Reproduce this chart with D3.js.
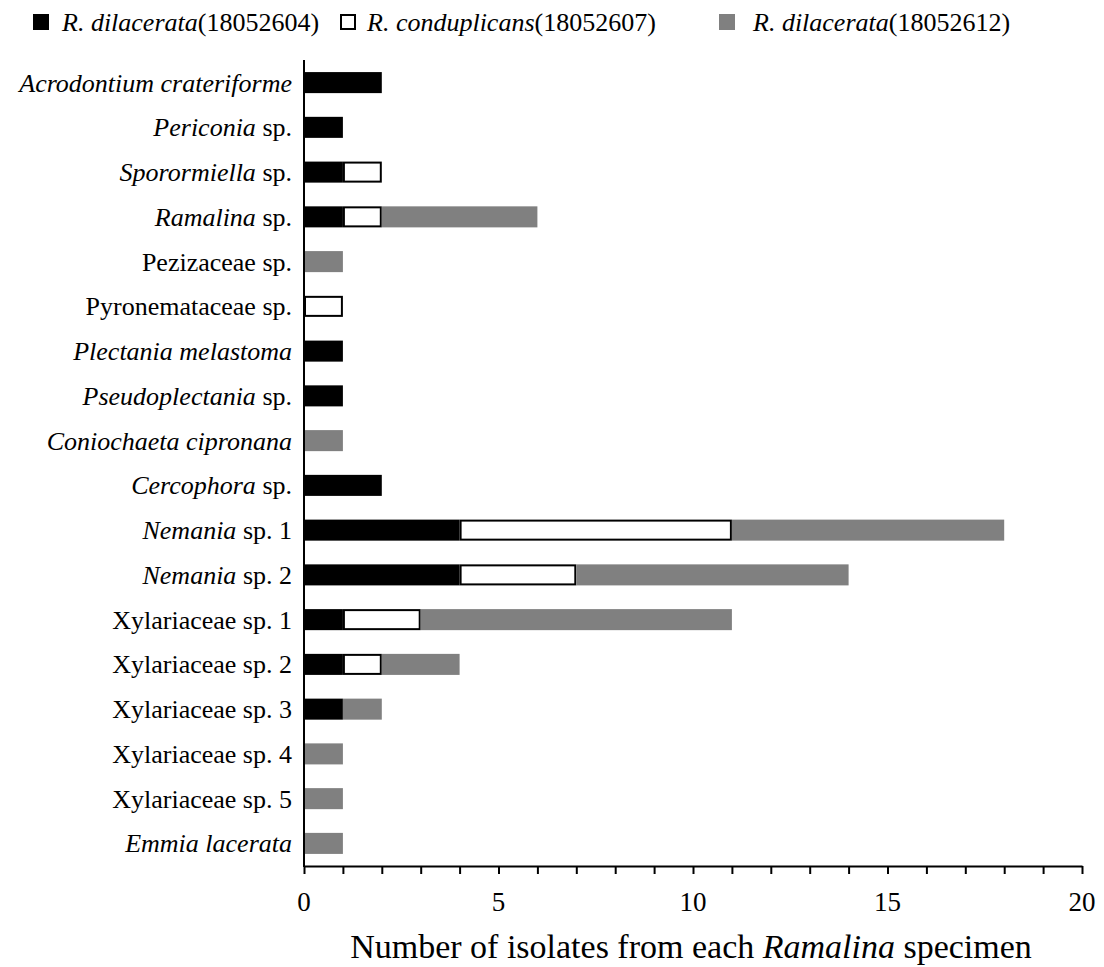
<!DOCTYPE html>
<html>
<head>
<meta charset="utf-8">
<script src="https://cdn.jsdelivr.net/npm/d3@7"></script>
<style>
  body { margin: 0; background: #fff; }
  svg text { font-family: "Liberation Serif", "Times New Roman", serif; fill: #000; }
</style>
</head>
<body>
<svg id="chart" width="1104" height="967"></svg>
<script>
// Taxon labels: [italic part, roman part]
const taxa = [
  ["Acrodontium crateriforme", ""],
  ["Periconia", " sp."],
  ["Sporormiella", " sp."],
  ["Ramalina", " sp."],
  ["", "Pezizaceae sp."],
  ["", "Pyronemataceae sp."],
  ["Plectania melastoma", ""],
  ["Pseudoplectania", " sp."],
  ["Coniochaeta cipronana", ""],
  ["Cercophora", " sp."],
  ["Nemania", " sp. 1"],
  ["Nemania", " sp. 2"],
  ["", "Xylariaceae sp. 1"],
  ["", "Xylariaceae sp. 2"],
  ["", "Xylariaceae sp. 3"],
  ["", "Xylariaceae sp. 4"],
  ["", "Xylariaceae sp. 5"],
  ["Emmia lacerata", ""]
];
const seriesNames = ["R. dilacerata", "R. conduplicans", "R. dilacerata"];
const seriesIds = ["(18052604)", "(18052607)", "(18052612)"];
const s18052604 = [2, 1, 1, 1, 0, 0, 1, 1, 0, 2, 4, 4, 1, 1, 1, 0, 0, 0];
const s18052607 = [0, 0, 1, 1, 0, 1, 0, 0, 0, 0, 7, 3, 2, 1, 0, 0, 0, 0];
const s18052612 = [0, 0, 0, 4, 1, 0, 0, 0, 1, 0, 7, 7, 8, 2, 1, 1, 1, 1];
const xTicks = [0, 5, 10, 15, 20];
const xTitle = ["Number of isolates from each ", "Ramalina", " specimen"];

const fills = ["#000000", "#ffffff", "#808080"];
const strokes = ["none", "#000000", "none"];

const svg = d3.select("#chart");
const plotLeft = 304, plotRight = 1082, plotTop = 60, plotBottom = 866;

const x = d3.scaleLinear().domain([0, 20]).range([plotLeft, plotRight]);
const y = d3.scaleBand().domain(d3.range(taxa.length)).range([plotTop, plotBottom]).paddingInner(0.53).paddingOuter(0.27);

const rows = taxa.map((t, i) => ({ i, vals: [s18052604[i], s18052607[i], s18052612[i]] }));
const stacked = d3.stack().keys([0, 1, 2]).value((d, k) => d.vals[k])(rows);

svg.append("g").selectAll("g")
  .data(stacked)
  .join("g")
  .each(function(layer) {
    const k = layer.key;
    d3.select(this).selectAll("rect")
      .data(layer.filter(d => d[1] > d[0]))
      .join("rect")
      .attr("x", d => x(d[0]) + (k === 1 ? 1 : 0))
      .attr("y", d => y(d.data.i) + (k === 1 ? 1 : 0))
      .attr("width", d => x(d[1]) - x(d[0]) - (k === 1 ? 2 : 0))
      .attr("height", y.bandwidth() - (k === 1 ? 2 : 0))
      .attr("fill", fills[k])
      .attr("stroke", strokes[k])
      .attr("stroke-width", 2);
  });

// Category labels
const labels = svg.append("g").selectAll("text")
  .data(taxa)
  .join("text")
  .attr("x", plotLeft - 12)
  .attr("y", (d, i) => y(i) + y.bandwidth() / 2)
  .attr("dy", "0.35em")
  .attr("text-anchor", "end")
  .attr("font-size", 26);
labels.each(function(d) {
  const t = d3.select(this);
  if (d[0]) t.append("tspan").attr("font-style", "italic").text(d[0]);
  if (d[1]) t.append("tspan").text(d[1]);
});

// Axes
const xAxis = svg.append("g")
  .attr("transform", `translate(0,${plotBottom})`)
  .call(d3.axisBottom(x).tickValues(d3.range(0, 21)).tickSize(8).tickSizeOuter(0).tickFormat(""));
xAxis.select(".domain").attr("stroke", "#000").attr("stroke-width", 2);
xAxis.selectAll(".tick line").attr("stroke", "#000").attr("stroke-width", 2);

svg.append("g").selectAll("text")
  .data(xTicks)
  .join("text")
  .attr("x", d => x(d))
  .attr("y", 902)
  .attr("dy", "0.35em")
  .attr("text-anchor", "middle")
  .attr("font-size", 27)
  .text(d => d);

svg.append("line")
  .attr("x1", plotLeft).attr("x2", plotLeft)
  .attr("y1", plotTop).attr("y2", plotBottom + 1)
  .attr("stroke", "#000").attr("stroke-width", 2);

const title = svg.append("text")
  .attr("x", 691)
  .attr("y", 946)
  .attr("dy", "0.35em")
  .attr("text-anchor", "middle")
  .attr("font-size", 34);
title.append("tspan").text(xTitle[0]);
title.append("tspan").attr("font-style", "italic").text(xTitle[1]);
title.append("tspan").text(xTitle[2]);

// Legend
const legendX = [33, 340, 719];
const legend = svg.append("g").selectAll("g")
  .data(seriesNames)
  .join("g")
  .attr("transform", (d, i) => `translate(${legendX[i]},14)`);
legend.append("rect")
  .attr("x", (d, i) => i === 1 ? 1 : 0)
  .attr("y", (d, i) => i === 1 ? 1 : 0)
  .attr("width", (d, i) => i === 1 ? 14 : 16)
  .attr("height", (d, i) => i === 1 ? 14 : 16)
  .attr("fill", (d, i) => fills[i])
  .attr("stroke", (d, i) => strokes[i])
  .attr("stroke-width", 2);
const lt = legend.append("text")
  .attr("x", (d, i) => [29, 27, 34][i])
  .attr("y", 8)
  .attr("dy", "0.35em")
  .attr("font-size", 26);
lt.append("tspan").attr("font-style", "italic").text(d => d);
lt.append("tspan").text((d, i) => seriesIds[i]);
</script>
</body>
</html>
